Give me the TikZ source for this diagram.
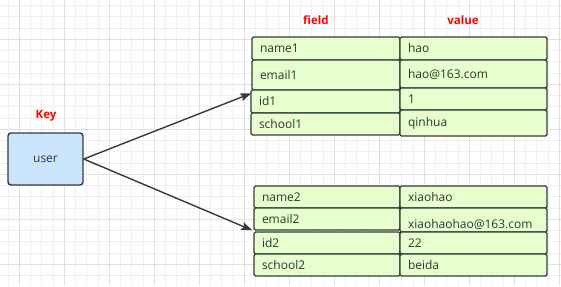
\documentclass[tikz,border=0pt]{standalone}
\usepackage{fontspec}
\setmainfont{Open Sans}
\usetikzlibrary{arrows.meta}
\definecolor{cellfill}{HTML}{E6FFCC}
\definecolor{keyfill}{HTML}{CCE5FF}
\definecolor{edgecol}{HTML}{36393D}
\definecolor{minorgrid}{HTML}{F0F0F0}
\definecolor{majorgrid}{HTML}{E0E0E0}
\definecolor{txt}{HTML}{333333}
\tikzset{
  cell/.style={draw=edgecol, fill=cellfill, line width=1.4pt, rounded corners=1.5pt,
    inner sep=0pt, align=left, font=\fontsize{12}{14}\selectfont, text=txt},
  keybox/.style={draw=edgecol, fill=keyfill, line width=1.4pt, rounded corners=3pt,
    inner sep=0pt, font=\fontsize{12}{14}\selectfont, text=txt},
  redlabel/.style={text=red, font=\bfseries\fontsize{11.5}{13}\selectfont, inner sep=0pt},
  link/.style={draw=edgecol, line width=1.4pt, -{Stealth[length=11pt,width=8pt,inset=2pt]}},
}
\newcommand\cellbox[6]{%
  \pgfmathsetmacro\cw{#4-#2}\pgfmathsetmacro\ch{#5-#3}\pgfmathsetmacro\tw{#4-#2-16}%
  \node[cell, minimum width=\cw pt, minimum height=\ch pt, text width=\tw pt]
    (#1) at ({(#2+#4)/2},{(#3+#5)/2}) {#6};}
\begin{document}
\begin{tikzpicture}[x=1pt,y=-1pt]
\useasboundingbox (0,0) rectangle (561,286);
\fill[white] (0,0) rectangle (561,286);
% grid
\foreach \i in {0,...,49} \draw[minorgrid, line width=0.8pt] ({8.05+11.25*\i},0) -- ++(0,286);
\foreach \i in {0,...,24} \draw[minorgrid, line width=0.8pt] (0,{5.5+11.25*\i}) -- ++(561,0);
\foreach \i in {0,...,12} \draw[majorgrid, line width=0.8pt] ({19.3+45*\i},0) -- ++(0,286);
\foreach \i in {0,...,5} \draw[majorgrid, line width=0.8pt] (0,{39.25+45*\i}) -- ++(561,0);
% labels
\node[redlabel] (lkey) at (46,116) {Key};
\node[redlabel] (lfield) at (316,20) {field};
\node[redlabel] (lvalue) at (463,20) {value};
% key
\node[keybox, minimum width=75pt, minimum height=52pt] (key) at (45.5,159) {user};
% top group
\cellbox{name1}{252}{37}{400}{60}{name1}
\cellbox{email1}{252}{60}{400}{90}{email1}
\cellbox{id1}{251}{90}{400}{113}{id1}
\cellbox{school1}{251}{113}{400}{135}{school1}
\cellbox{hao}{400}{37}{547}{60}{hao}
\cellbox{mail1}{400}{60}{547}{88}{hao@163.com}
\cellbox{one}{400}{88}{547}{110}{1}
\cellbox{qinhua}{400}{110}{547}{136}{qinhua}
% bottom group
\cellbox{name2}{254}{186}{400}{208}{name2}
\cellbox{email2}{254}{208}{400}{230}{email2}
\cellbox{id2}{254}{232}{400}{254}{id2}
\cellbox{school2}{254}{254}{400}{276}{school2}
\cellbox{xiaohao}{400}{186}{547}{208}{xiaohao}
\cellbox{mail2}{400}{208}{547}{232}{\raisebox{-4pt}[\height][\depth]{xiaohaohao@163.com}}
\cellbox{twotwo}{400}{232}{547}{254}{22}
\cellbox{beida}{400}{254}{547}{276}{beida}
% connectors
\draw[link] (key.east) -- ([shift={(1,4)}]id1.north west);
\draw[link] (key.east) -- ([shift={(-1,-1)}]id2.north west);
\end{tikzpicture}
\end{document}
